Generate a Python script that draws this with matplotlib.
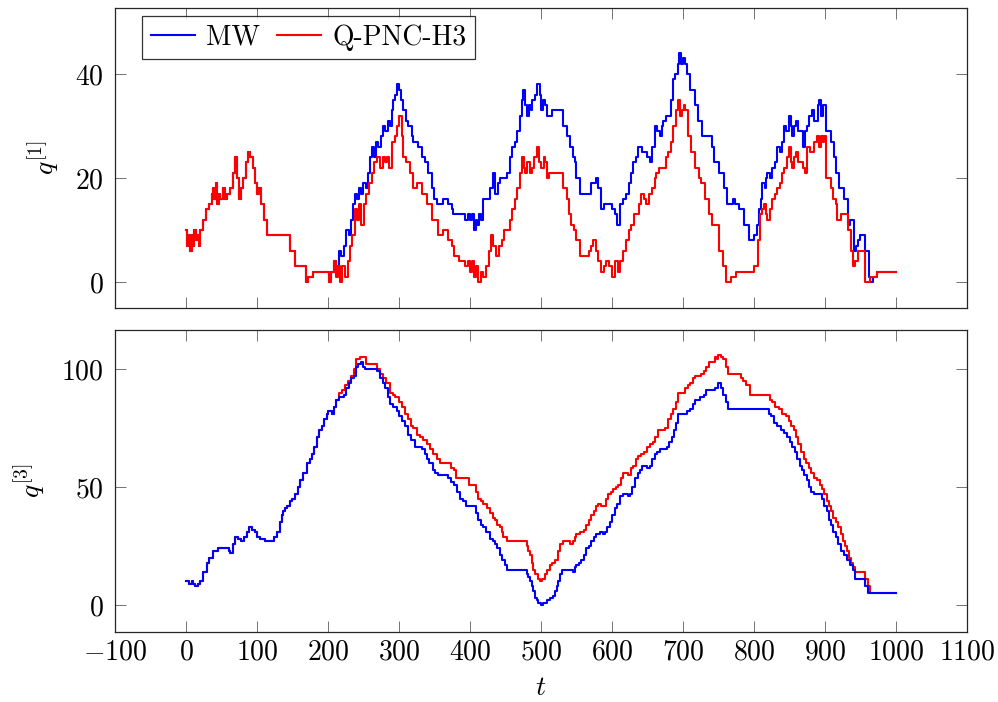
import numpy as np
import matplotlib
matplotlib.use("Agg")
import matplotlib.pyplot as plt

plt.rcParams['font.family'] = ['cmr10', 'DejaVu Serif']
plt.rcParams['mathtext.fontset'] = 'cm'
plt.rcParams['axes.formatter.use_mathtext'] = True
plt.rcParams['axes.unicode_minus'] = True

# --- q[1]: part shared by both methods (t, value) ---
q1_common_t = [0, 2, 4, 6, 8, 10, 12, 14, 16, 18, 20, 24, 28, 32, 36, 38, 40, 42, 44, 46,
               48, 52, 55, 58, 62, 66, 69, 72, 75, 78, 80, 84, 87, 90, 94, 97, 100, 103,
               106, 110, 114, 146, 153, 169, 172, 179, 201, 204, 208]
q1_common_q = [10, 7, 9, 6, 9, 7, 10, 8, 9, 7, 10, 12, 14, 15, 17, 18, 16, 19, 15, 17,
               16, 18, 16, 17, 18, 21, 24, 20, 16, 18, 20, 23, 25, 24, 22, 19, 17, 18,
               15, 12, 9, 6, 3, 0, 1, 2, 0, 2, 4]

# q[1] MW after split
q1_mw_t = [212, 215, 218, 222, 226, 229, 232, 235, 238, 241, 244, 247, 250, 253, 256, 259,
           262, 265, 268, 271, 274, 278, 281, 284, 288, 290, 292, 295, 297, 300, 303, 306,
           310, 313, 318, 320, 327, 332, 336, 341, 346, 350, 353, 362, 369, 374, 376, 393,
           397, 400, 403, 405, 408, 410, 413, 416, 419, 425, 428, 432, 435, 439, 442, 449,
           452, 456, 459, 463, 466, 470, 473, 475, 478, 480, 483, 486, 488, 492, 495, 498,
           500, 503, 506, 508, 512, 515, 529, 531, 536, 541, 545, 548, 550, 555, 567, 571,
           578, 581, 585, 589, 600, 604, 607, 611, 615, 620, 624, 627, 630, 634, 637, 643,
           650, 653, 657, 660, 664, 667, 670, 672, 676, 683, 686, 689, 693, 695, 697, 700,
           703, 705, 710, 717, 721, 727, 741, 744, 751, 758, 762, 770, 773, 779, 786, 793,
           800, 804, 807, 810, 812, 815, 817, 819, 822, 826, 829, 833, 836, 839, 842, 845,
           849, 852, 854, 857, 859, 862, 869, 872, 875, 878, 882, 885, 890, 892, 895, 897,
           902, 908, 913, 915, 920, 927, 932, 935, 941, 944, 946, 950, 957, 962, 964, 968,
           973, 1000]
q1_mw_q = [3, 6, 5, 7, 10, 9, 12, 15, 17, 16, 18, 17, 19, 18, 21, 24,
           26, 24, 27, 26, 28, 30, 29, 31, 30, 33, 35, 36, 38, 37, 35, 33,
           31, 30, 28, 27, 26, 24, 23, 21, 18, 16, 15, 16, 15, 14, 13, 12,
           13, 12, 13, 10, 12, 11, 13, 12, 16, 16, 18, 21, 17, 19, 20, 20,
           21, 24, 26, 27, 29, 32, 35, 37, 34, 32, 34, 33, 35, 36, 38, 36,
           33, 35, 34, 32, 32, 33, 33, 30, 28, 26, 24, 23, 20, 17, 17, 19,
           20, 18, 14, 15, 14, 13, 11, 15, 16, 17, 19, 21, 23, 24, 26, 25,
           24, 23, 26, 30, 29, 28, 30, 31, 32, 35, 39, 40, 42, 44, 42, 43,
           42, 40, 37, 34, 31, 28, 26, 23, 21, 18, 15, 16, 15, 14, 11, 8,
           9, 11, 14, 16, 19, 18, 20, 21, 20, 22, 23, 26, 25, 27, 30, 29,
           32, 30, 28, 30, 31, 29, 26, 29, 30, 32, 33, 31, 34, 35, 32, 34,
           29, 27, 24, 21, 18, 16, 11, 12, 6, 7, 8, 9, 6, 1, 0, 1,
           2, 2]

# q[1] Q-PNC-H3 after split
q1_pnc_t = [211, 214, 217, 220, 224, 228, 231, 234, 238, 241, 244, 247, 251, 254, 258, 262,
            265, 269, 273, 277, 280, 283, 286, 290, 294, 297, 300, 304, 306, 310, 315, 320,
            325, 333, 339, 346, 355, 362, 369, 374, 378, 385, 393, 397, 400, 403, 406, 409,
            412, 415, 419, 423, 427, 430, 433, 437, 441, 445, 448, 456, 459, 463, 466, 470,
            473, 476, 478, 481, 484, 487, 490, 494, 497, 500, 504, 506, 508, 512, 531, 536,
            540, 543, 547, 550, 555, 567, 571, 573, 578, 581, 585, 589, 592, 596, 600, 604,
            608, 612, 615, 620, 624, 627, 631, 638, 641, 645, 648, 652, 657, 660, 662, 666,
            676, 679, 683, 686, 690, 693, 696, 698, 701, 703, 707, 712, 717, 722, 726, 731,
            736, 741, 751, 757, 761, 768, 775, 800, 805, 809, 812, 814, 817, 819, 822, 826,
            829, 833, 836, 840, 843, 846, 849, 852, 854, 857, 859, 862, 869, 872, 875, 879,
            885, 889, 892, 895, 897, 899, 902, 908, 912, 915, 917, 922, 932, 936, 939, 943,
            946, 957, 964, 973, 1000]
q1_pnc_q = [1, 3, 0, 3, 1, 4, 7, 9, 14, 12, 15, 11, 15, 17, 19, 21,
            23, 24, 22, 24, 23, 24, 22, 27, 28, 30, 32, 28, 24, 23, 21, 18,
            19, 17, 15, 12, 9, 10, 8, 7, 5, 4, 3, 4, 2, 4, 1, 3,
            0, 2, 1, 3, 6, 9, 7, 5, 7, 8, 10, 12, 14, 16, 18, 21,
            24, 22, 21, 23, 21, 22, 24, 26, 23, 22, 24, 23, 20, 21, 18, 16,
            13, 11, 10, 8, 5, 6, 7, 8, 6, 4, 2, 3, 4, 3, 1, 4,
            2, 4, 6, 8, 10, 11, 13, 15, 17, 16, 15, 17, 18, 20, 21, 22,
            24, 25, 27, 30, 33, 35, 32, 33, 34, 33, 28, 25, 22, 20, 19, 16,
            13, 11, 6, 3, 0, 1, 2, 3, 8, 13, 14, 15, 13, 12, 14, 16,
            17, 18, 19, 21, 22, 24, 26, 23, 22, 24, 25, 23, 22, 21, 26, 25,
            27, 28, 26, 28, 27, 28, 20, 18, 16, 15, 12, 13, 10, 6, 3, 4,
            6, 0, 1, 2, 2]

# --- q[3]: part shared by both methods ---
q3_common_t = [0, 4, 8, 10, 13, 17, 20, 24, 29, 33, 38, 42, 45, 57, 60, 62, 66, 69, 73, 78,
               82, 86, 89, 93, 97, 100, 104, 111, 121, 124, 128, 132, 135, 137, 140, 143,
               146, 150, 154, 158, 161, 165, 170, 174, 177, 181, 184, 188, 191, 195, 198,
               200, 205, 208, 212]
q3_common_q = [10, 9, 10, 9, 8, 9, 10, 14, 18, 20, 23, 23, 24, 24, 23, 22, 26, 29, 28, 27,
               29, 31, 33, 32, 31, 29, 28, 27, 27, 29, 31, 35, 38, 40, 41, 42,
               44, 45, 47, 50, 53, 56, 60, 62, 64, 67, 71, 74, 76, 79, 81,
               82, 81, 84, 87]

q3_mw_t = [216, 222, 226, 229, 233, 236, 240, 243, 247, 250, 252, 269, 273, 277, 280, 284,
           287, 291, 297, 300, 304, 308, 313, 317, 322, 332, 336, 339, 343, 348, 351, 355,
           369, 373, 377, 382, 386, 390, 395, 408, 412, 416, 419, 423, 428, 432, 435, 438,
           442, 445, 449, 452, 480, 482, 485, 487, 489, 491, 494, 496, 500, 503, 509, 513,
           517, 520, 522, 524, 527, 529, 545, 548, 550, 554, 557, 560, 564, 567, 571, 574,
           578, 583, 587, 590, 593, 597, 600, 604, 607, 611, 615, 622, 625, 628, 632, 636,
           639, 643, 650, 653, 657, 660, 664, 668, 677, 681, 684, 688, 690, 693, 705, 710,
           714, 717, 724, 729, 733, 745, 750, 753, 757, 761, 764, 821, 824, 828, 833, 838,
           843, 847, 851, 854, 858, 861, 865, 868, 870, 874, 877, 881, 885, 896, 899, 903,
           906, 909, 912, 915, 918, 922, 927, 931, 935, 939, 943, 957, 960, 1000]
q3_mw_q = [88, 89, 92, 94, 96, 97, 101, 102, 103, 101, 100, 99, 96, 94, 92, 88,
           85, 84, 82, 80, 78, 76, 72, 70, 67, 66, 64, 62, 60, 57, 56, 55,
           54, 52, 51, 48, 45, 44, 42, 39, 36, 34, 33, 31, 28, 27, 26, 24,
           21, 19, 17, 15, 13, 12, 10, 8, 6, 3, 2, 1, 0, 1, 2, 3,
           4, 6, 8, 10, 13, 15, 14, 16, 17, 18, 19, 21, 24, 25, 27, 29,
           30, 31, 30, 31, 33, 35, 38, 41, 43, 46, 47, 46, 47, 50, 54, 56,
           57, 59, 58, 59, 62, 64, 65, 66, 67, 69, 71, 74, 77, 81, 82, 83,
           85, 87, 88, 89, 91, 92, 94, 92, 89, 86, 83, 81, 80, 77, 76, 74,
           73, 71, 69, 67, 65, 62, 59, 57, 55, 53, 50, 48, 47, 45, 42, 40,
           36, 34, 31, 29, 26, 23, 21, 19, 17, 15, 11, 8, 5, 5]

q3_pnc_t = [216, 220, 224, 228, 233, 236, 239, 245, 254, 269, 273, 278, 282, 287, 291, 294,
            300, 304, 309, 313, 317, 320, 325, 329, 334, 340, 344, 348, 353, 358, 373, 377,
            381, 398, 408, 412, 416, 419, 424, 428, 432, 435, 438, 442, 445, 447, 452, 480,
            482, 485, 487, 489, 492, 496, 499, 502, 506, 509, 513, 516, 520, 524, 527, 531,
            541, 545, 548, 550, 555, 560, 564, 567, 571, 574, 578, 581, 585, 592, 595, 599,
            602, 606, 609, 613, 616, 623, 627, 630, 634, 637, 641, 645, 649, 654, 658, 661,
            665, 675, 679, 683, 686, 690, 693, 703, 707, 710, 714, 717, 726, 729, 733, 736,
            745, 748, 750, 753, 757, 761, 764, 782, 785, 789, 795, 823, 826, 830, 835, 840,
            845, 849, 852, 856, 859, 862, 866, 870, 873, 877, 880, 885, 889, 893, 896, 899,
            903, 906, 908, 912, 915, 918, 922, 925, 928, 931, 934, 936, 940, 943, 956, 960,
            964, 1000]
q3_pnc_q = [90, 91, 93, 95, 97, 100, 104, 105, 102, 100, 98, 96, 94, 90, 89, 88,
            86, 84, 81, 79, 76, 75, 72, 71, 70, 68, 66, 64, 62, 60, 58, 57,
            54, 51, 48, 45, 44, 43, 41, 39, 37, 36, 34, 33, 31, 29, 27, 25,
            23, 21, 18, 15, 13, 11, 10, 11, 13, 15, 17, 18, 19, 23, 26, 27,
            26, 27, 29, 30, 31, 32, 34, 36, 38, 40, 42, 43, 42, 45, 47, 48,
            49, 50, 51, 54, 56, 55, 58, 59, 62, 63, 64, 65, 67, 68, 69, 71,
            74, 75, 79, 81, 83, 86, 90, 92, 93, 94, 96, 97, 98, 99, 101, 103,
            105, 104, 106, 105, 104, 101, 98, 96, 95, 93, 89, 87, 86, 84, 83, 81,
            80, 78, 76, 74, 71, 68, 65, 62, 60, 58, 56, 54, 53, 51, 49, 47,
            44, 42, 40, 37, 35, 33, 30, 27, 25, 23, 20, 18, 16, 14, 11, 8,
            5, 5]

labels = ['MW', 'Q-PNC-H3']
blue = '#0000ff'
red = '#ff0000'

fig = plt.figure(figsize=(9.98, 7.02), dpi=100)
ax1 = fig.add_axes([0.1152, 0.5613, 0.8537, 0.4274])
ax2 = fig.add_axes([0.1152, 0.0997, 0.8537, 0.4303])

t1_mw = q1_common_t + q1_mw_t
v1_mw = q1_common_q + q1_mw_q
t1_pnc = q1_common_t + q1_pnc_t
v1_pnc = q1_common_q + q1_pnc_q
t3_mw = q3_common_t + q3_mw_t
v3_mw = q3_common_q + q3_mw_q
t3_pnc = q3_common_t + q3_pnc_t
v3_pnc = q3_common_q + q3_pnc_q

lw = 1.5
ax1.step(t1_mw, v1_mw, where='post', color=blue, lw=lw, label=labels[0])
ax1.step(t1_pnc, v1_pnc, where='post', color=red, lw=lw, label=labels[1])
ax2.step(t3_pnc, v3_pnc, where='post', color=red, lw=lw)
ax2.step(t3_mw, v3_mw, where='post', color=blue, lw=lw)

for ax in (ax1, ax2):
    ax.set_xlim(-100, 1100)
    ax.set_xticks(np.arange(-100, 1101, 100))
    ax.tick_params(direction='in', length=8, width=0.7, color='0.45',
                   top=True, right=True, labelsize=20)
    ax.tick_params(axis='y', pad=8)
    ax.tick_params(axis='x', pad=5)
    for s in ax.spines.values():
        s.set_linewidth(0.9)
        s.set_color('0.15')

ax1.set_ylim(-5, 52.7)
ax1.set_yticks([0, 20, 40])
ax1.tick_params(labelbottom=False)
ax2.set_ylim(-11.4, 116.5)
ax2.set_yticks([0, 50, 100])

ax1.set_ylabel(r'$q^{[1]}$', fontsize=20, labelpad=10)
ax2.set_ylabel(r'$q^{[3]}$', fontsize=20, labelpad=10)
ax2.set_xlabel(r'$t$', fontsize=20, labelpad=7)

leg = ax1.legend(loc='upper left', bbox_to_anchor=(0.032, 0.973), borderaxespad=0,
                 ncol=2, fontsize=20, frameon=True, fancybox=False, handlelength=1.6,
                 handletextpad=0.4, columnspacing=0.6, borderpad=0.3)
leg.get_frame().set_edgecolor('black')
leg.get_frame().set_linewidth(0.9)

fig.savefig('out.png', dpi=100)
